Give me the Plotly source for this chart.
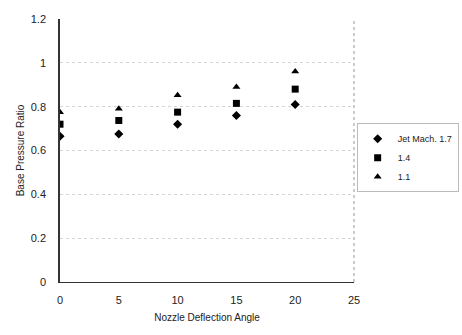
import plotly.graph_objects as go

angles = [0, 5, 10, 15, 20]
mach_17 = [0.665, 0.675, 0.72, 0.76, 0.81]
mach_14 = [0.72, 0.737, 0.775, 0.815, 0.88]
mach_11 = [0.775, 0.79, 0.852, 0.89, 0.96]
series_names = ["Jet Mach. 1.7", "1.4", "1.1"]
symbols = ["diamond", "square", "triangle-up"]

fig = go.Figure()
for name, vals, sym in zip(series_names, [mach_17, mach_14, mach_11], symbols):
    fig.add_trace(go.Scatter(x=angles, y=vals, mode="markers", name=name,
                             marker=dict(symbol=sym, size=7, color="black")))

fig.update_layout(
    width=462, height=335,
    margin=dict(l=60, r=108, t=19, b=53, autoexpand=False),
    paper_bgcolor="white", plot_bgcolor="white",
    font=dict(family="Liberation Sans, Arial, sans-serif", size=11, color="#222"),
    showlegend=True,
    legend=dict(xref="container", yref="container", x=0.772, y=0.632,
                xanchor="left", yanchor="top",
                bordercolor="#bbb", borderwidth=1, font=dict(size=9),
                itemwidth=30, tracegroupgap=0),
    xaxis=dict(range=[0, 25], tickvals=[0, 5, 10, 15, 20, 25], showgrid=False,
               showline=True, linecolor="#333", linewidth=1, mirror=False,
               zeroline=False, ticks="", title=dict(text="Nozzle Deflection Angle", standoff=8,
                                                     font=dict(size=10)),
               ticklabelstandoff=8),
    yaxis=dict(range=[0, 1.2], tickvals=[0, 0.2, 0.4, 0.6, 0.8, 1, 1.2],
               ticktext=["0", "0.2", "0.4", "0.6", "0.8", "1", "1.2"],
               showgrid=True, gridcolor="#d4d4d4", griddash="dot", gridwidth=1,
               showline=True, linecolor="#333", linewidth=1.5, zeroline=False,
               ticks="", title=dict(text="Base Pressure Ratio", standoff=4,
                                    font=dict(size=10)),
               ticklabelstandoff=10),
)
fig.add_shape(type="line", xref="paper", yref="paper", x0=1, x1=1, y0=0, y1=1,
              line=dict(color="#999", width=1, dash="dot"))
fig.write_html("out.html")
